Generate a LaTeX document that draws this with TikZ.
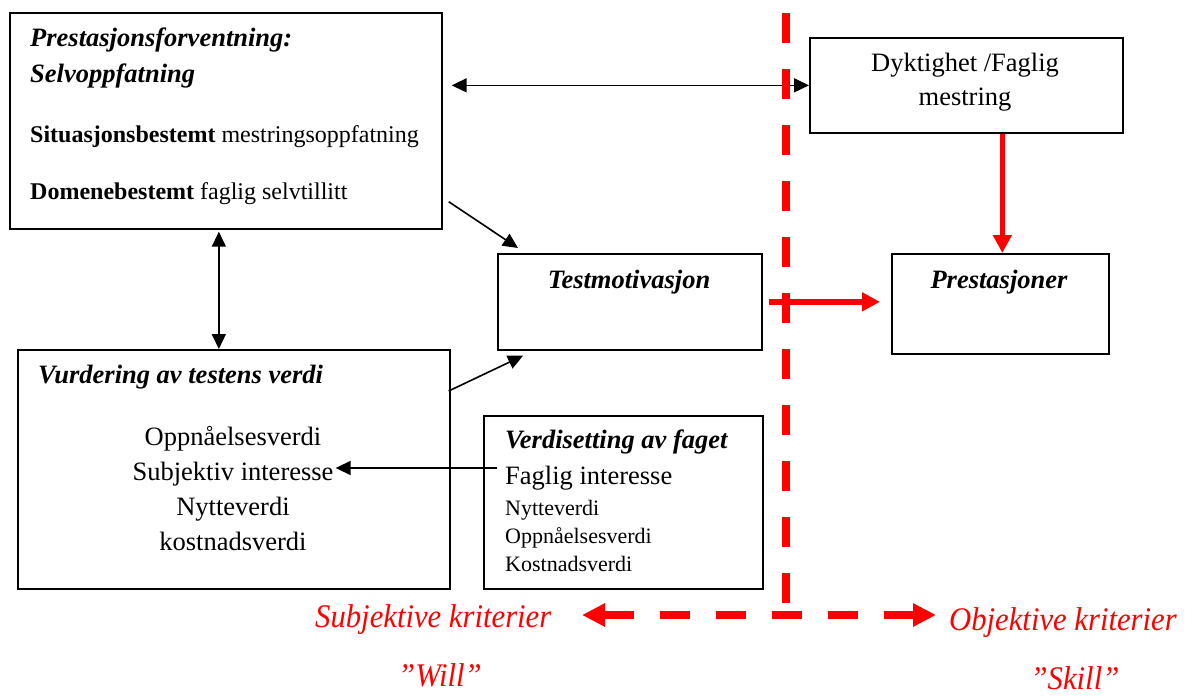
\documentclass[tikz,border=0pt]{standalone}
\usepackage{fontspec}
\setmainfont{Liberation Serif}
\usetikzlibrary{arrows.meta}
\definecolor{mred}{RGB}{255,0,0}
\newcommand{\fsz}[1]{\fontsize{#1}{#1}\selectfont}
\tikzset{
  box/.style={draw, line width=1.7pt, inner sep=0pt, anchor=north west},
  txt/.style={inner sep=0pt, anchor=base west},
  ctxt/.style={inner sep=0pt, anchor=base},
  blk/.style={line width=1.6pt, -{Triangle[length=15pt,width=14pt]}},
  blkboth/.style={line width=1.6pt, {Triangle[length=15pt,width=14pt]}-{Triangle[length=15pt,width=14pt]}},
  redarrow/.style={mred, line width=5.5pt, -{Triangle[length=18pt,width=18pt]}},
  reddash/.style={mred, line width=7.5pt, dash pattern=on 30pt off 26pt},
  redlab/.style={inner sep=0pt, anchor=base west, text=mred, xscale=0.93, font=\fsz{33}\itshape}
}
\begin{document}
\begin{tikzpicture}[x=1pt,y=-1pt]
\useasboundingbox (0,0) rectangle (1195,698);

% boxes
\node[box, minimum width=432pt, minimum height=216pt] (pf) at (9,12) {};
\node[box, minimum width=313pt, minimum height=95pt] (dk) at (809,37) {};
\node[box, minimum width=264pt, minimum height=96pt] (tm) at (497,253) {};
\node[box, minimum width=217pt, minimum height=100pt] (pr) at (891,253) {};
\node[box, minimum width=432pt, minimum height=239pt] (vt) at (17,349) {};
\node[box, minimum width=279pt, minimum height=173pt] (vf) at (483,415) {};

% texts: expectancy box
\node[txt, font=\fsz{26.5}\bfseries\itshape] (pf1) at (30,47) {Prestasjonsforventning:};
\node[txt, font=\fsz{26.5}\bfseries\itshape] (pf2) at (30,83) {Selvoppfatning};
\node[txt, font=\fsz{24}] (pf3) at (30,143) {\textbf{Situasjonsbestemt} mestringsoppfatning};
\node[txt, font=\fsz{24}] (pf4) at (30,200) {\textbf{Domenebestemt} faglig selvtillitt};

% ability box
\node[ctxt, font=\fsz{26.5}] (dk1) at (965,72) {Dyktighet /Faglig};
\node[ctxt, font=\fsz{26.5}] (dk2) at (965,106) {mestring};

% test motivation and performance
\node[ctxt, font=\fsz{26.5}\bfseries\itshape] (tm1) at (629,288) {Testmotivasjon};
\node[ctxt, font=\fsz{26.5}\bfseries\itshape] (pr1) at (999,288) {Prestasjoner};

% value of the test
\node[txt, font=\fsz{26.5}\bfseries\itshape] (vt1) at (38,383) {Vurdering av testens verdi};
\node[ctxt, font=\fsz{26.5}] (vt2) at (233,445) {Oppnåelsesverdi};
\node[ctxt, font=\fsz{26.5}] (si) at (233,480) {Subjektiv interesse};
\node[ctxt, font=\fsz{26.5}] (vt4) at (233,515) {Nytteverdi};
\node[ctxt, font=\fsz{26.5}] (vt5) at (233,550) {kostnadsverdi};

% value of the subject
\node[txt, font=\fsz{26.5}\bfseries\itshape] (vf1) at (505,448) {Verdisetting av faget};
\node[txt, font=\fsz{26.5}] (fi) at (505,484) {Faglig interesse};
\node[txt, font=\fsz{22}] (vf3) at (505,515) {Nytteverdi};
\node[txt, font=\fsz{22}] (vf4) at (505,543) {Oppnåelsesverdi};
\node[txt, font=\fsz{22}] (vf5) at (505,571) {Kostnadsverdi};

% black connectors
\draw[blkboth] ([xshift=9pt]pf.east |- dk.west) -- (dk.west);
\draw[blk] ([shift={(6,-28)}]pf.south east) -- ([shift={(21,-5)}]tm.north west);
\draw[blkboth] ([shift={(-7,2)}]pf.south) -- ([xshift=-7pt]pf.south |- vt.north);
\draw[blk] ([shift={(-2,42)}]vt.north east) -- ([shift={(26,5)}]tm.south west);
\draw[blk] ([shift={(-8,-16)}]fi.base west) -- ([shift={(2,-12)}]si.base east);

% red connectors
\draw[redarrow] ([xshift=2pt]pr.north |- dk.south) -- ([xshift=2pt]pr.north);
\draw[redarrow] ([xshift=6pt]tm.east) -- ([xshift=-11pt]pr.west |- tm.east);

% dividing line and criteria axis
\coordinate (divtop) at (786,13);
\coordinate (divbot) at (786,605);
\coordinate (axl) at (582,615);
\coordinate (axr) at (936,615);
\draw[reddash] (divtop) -- (divbot);
\draw[reddash, {Triangle[length=23pt,width=22pt]}-{Triangle[length=23pt,width=22pt]}] (axl) -- (axr);

% criteria labels
\node[redlab] (sk) at (315,627) {Subjektive kriterier};
\node[redlab] (ok) at (949,630) {Objektive kriterier};
\node[redlab, anchor=base] (will) at (440,686) {”Will”};
\node[redlab, anchor=base] (skill) at (1075,689) {”Skill”};
\end{tikzpicture}
\end{document}
